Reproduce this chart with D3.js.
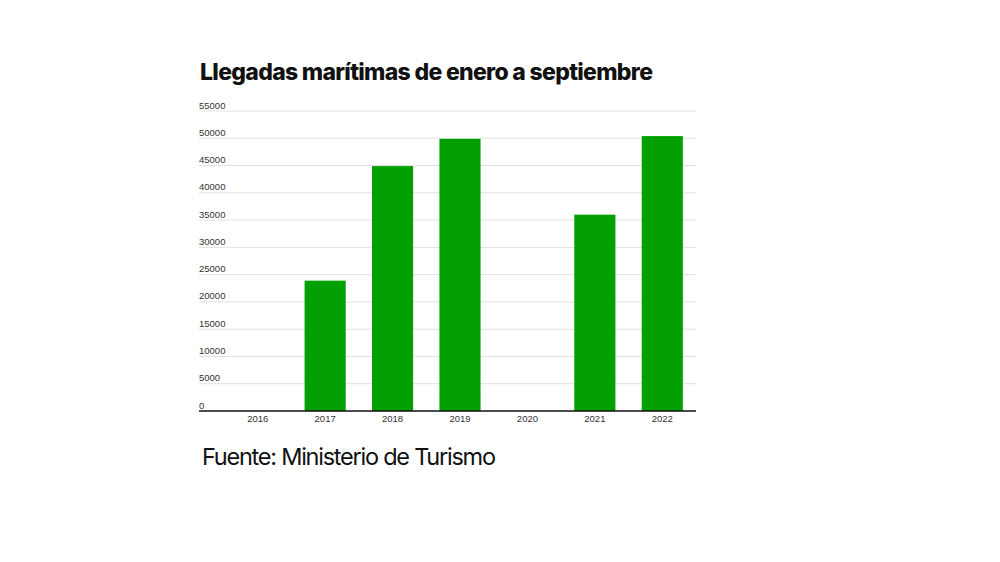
<!DOCTYPE html>
<html>
<head>
<meta charset="utf-8">
<script src="https://cdn.jsdelivr.net/npm/d3@7"></script>
<style>
  body { margin: 0; background: #fff; }
  svg { display: block; }
</style>
</head>
<body>
<svg width="1000" height="562"></svg>
<script>
// data
const years = ["2016", "2017", "2018", "2019", "2020", "2021", "2022"];
const arrivals = [0, 23900, 44900, 49900, 0, 36000, 50400];
const yTicks = [0, 5000, 10000, 15000, 20000, 25000, 30000, 35000, 40000, 45000, 50000, 55000];

const svg = d3.select("svg");

const plotLeft = 199, plotRight = 696, plotTop = 111, plotBottom = 411;

const x = d3.scaleBand()
    .domain(years)
    .range([224, plotRight])
    .paddingInner(0.39)
    .paddingOuter(0.195);

const y = d3.scaleLinear()
    .domain([0, 55000])
    .range([plotBottom, plotTop]);

// title
svg.append("text")
    .attr("x", 200)
    .attr("y", 80)
    .attr("font-family", "Inter, 'Noto Sans', sans-serif")
    .attr("font-weight", 800)
    .attr("font-size", 23)
    .attr("fill", "#111")
    .attr("textLength", 453)
    .attr("lengthAdjust", "spacing")
    .text("Llegadas marítimas de enero a septiembre");

// gridlines + y labels
const grid = svg.append("g");
grid.selectAll("line")
  .data(yTicks.filter(d => d > 0))
  .join("line")
    .attr("x1", plotLeft)
    .attr("x2", plotRight)
    .attr("y1", d => y(d))
    .attr("y2", d => y(d))
    .attr("stroke", "#e0e0e0")
    .attr("stroke-width", 1);

grid.selectAll("text")
  .data(yTicks)
  .join("text")
    .attr("x", plotLeft)
    .attr("y", d => y(d) - 2.5)
    .attr("font-family", "'Liberation Sans', Arial, sans-serif")
    .attr("font-size", 9.5)
    .attr("fill", "#333")
    .text(d => d);

// bars
svg.append("g")
  .selectAll("rect")
  .data(years.map((yr, i) => ({ year: yr, value: arrivals[i] })))
  .join("rect")
    .attr("x", d => x(d.year))
    .attr("width", x.bandwidth())
    .attr("y", d => y(d.value))
    .attr("height", d => y(0) - y(d.value))
    .attr("fill", "#02a002");

// x axis
const xAxis = svg.append("g")
    .attr("transform", `translate(0,${plotBottom})`)
    .call(d3.axisBottom(x).tickSize(0).tickPadding(4));
xAxis.select(".domain").remove();
xAxis.selectAll("text")
    .attr("font-family", "'Liberation Sans', Arial, sans-serif")
    .attr("font-size", 9.5)
    .attr("fill", "#333");

svg.append("line")
    .attr("x1", plotLeft)
    .attr("x2", plotRight)
    .attr("y1", plotBottom)
    .attr("y2", plotBottom)
    .attr("stroke", "#111")
    .attr("stroke-width", 1.5);

// source
svg.append("text")
    .attr("x", 202)
    .attr("y", 464.5)
    .attr("font-family", "Inter, 'Noto Sans', sans-serif")
    .attr("font-weight", 400)
    .attr("font-size", 23.5)
    .attr("fill", "#111")
    .attr("textLength", 294)
    .attr("lengthAdjust", "spacing")
    .text("Fuente: Ministerio de Turismo");
</script>
</body>
</html>
